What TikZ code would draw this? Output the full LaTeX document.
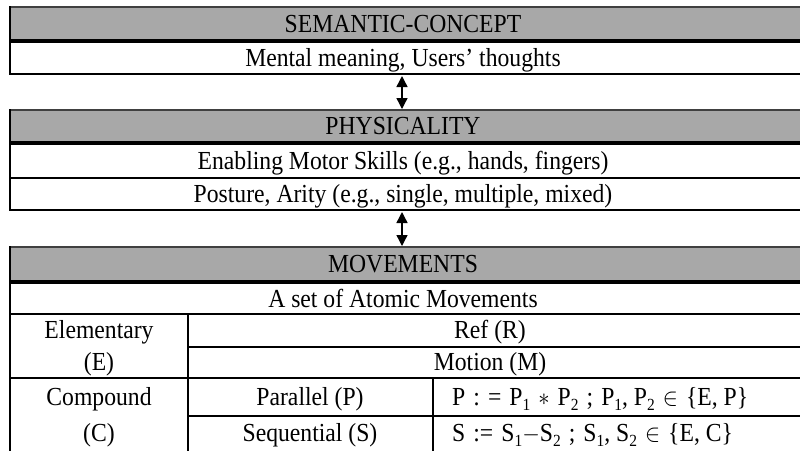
\documentclass[tikz,border=0pt]{standalone}
\usepackage{fontspec}
\setmainfont{Liberation Serif}
\usetikzlibrary{arrows.meta}
\definecolor{hdr}{HTML}{A8A8A8}
\newcommand{\sbs}[1]{\raisebox{-0.5ex}{\fontsize{17}{17}\selectfont #1}}
\newcommand{\sq}[1]{\scalebox{0.91}[1]{#1}}
\newcommand{\fsp}{\hspace{0.34em}}
\begin{document}
\begin{tikzpicture}[x=1pt,y=-1pt,
  txt/.style={font=\fontsize{26}{30}\selectfont, inner sep=0pt, anchor=base},
  ftxt/.style={txt, anchor=base west},
  toprule/.style={line width=2pt, draw=black!75},
  siderule/.style={line width=2.5pt},
  thinrule/.style={line width=2pt},
  thickrule/.style={line width=4pt},
  dbl/.style={line width=1.4pt, {Triangle[width=11pt,length=11pt]}-{Triangle[width=11pt,length=11pt]}}]
\useasboundingbox (0,0) rectangle (800,450);
\clip (0,0) rectangle (800,450);
\def\L{10}
\def\R{804}
% ---------- table 1
\fill[hdr] (\L,7) rectangle (\R,41);
\draw[toprule] (\L,7) -- (\R,7);
\draw[thickrule] (\L,41) -- (\R,41);
\draw[thinrule] (\L,74) -- (\R,74);
\draw[siderule] (\L,6) -- (\L,75);
\node[txt] (sem) at (403,32) {\sq{SEMANTIC-CONCEPT}};
\node[txt] (mental) at (403,66) {\sq{Mental meaning, Users’ thoughts}};
% ---------- table 2
\fill[hdr] (\L,110) rectangle (\R,143);
\draw[toprule] (\L,110) -- (\R,110);
\draw[thickrule] (\L,143) -- (\R,143);
\draw[thinrule] (\L,178) -- (\R,178);
\draw[thinrule] (\L,210) -- (\R,210);
\draw[siderule] (\L,109) -- (\L,211);
\node[txt] (phys) at (403,134) {\sq{PHYSICALITY}};
\node[txt] (motor) at (403,169) {\sq{Enabling Motor Skills (e.g., hands, fingers)}};
\node[txt] (posture) at (403,202) {\sq{Posture, Arity (e.g., single, multiple, mixed)}};
% ---------- table 3
\fill[hdr] (\L,247) rectangle (\R,282);
\draw[toprule] (\L,247) -- (\R,247);
\draw[thickrule] (\L,282) -- (\R,282);
\draw[thinrule] (\L,314) -- (\R,314);
\draw[thinrule] (188,347) -- (\R,347);
\draw[thinrule] (\L,378) -- (\R,378);
\draw[thinrule] (188,416) -- (\R,416);
\draw[siderule] (\L,246) -- (\L,452);
\draw[siderule] (188,314) -- (188,452);
\draw[siderule] (433,378) -- (433,452);
\node[txt] (mov) at (403,272) {\sq{MOVEMENTS}};
\node[txt] (atomic) at (403,307) {\sq{A set of Atomic Movements}};
\node[txt] (elem) at (99,338) {\sq{Elementary}};
\node[txt] (elemE) at (99,370) {\sq{(E)}};
\node[txt] (ref) at (490,338) {\sq{Ref (R)}};
\node[txt] (motion) at (490,370) {\sq{Motion (M)}};
\node[txt] (comp) at (99,405) {\sq{Compound}};
\node[txt] (compC) at (99,441) {\sq{(C)}};
\node[txt] (par) at (310,405) {\sq{Parallel (P)}};
\node[txt] (seq) at (310,441) {\sq{Sequential (S)}};
\node[ftxt] (pform) at (452,405) {\sq{P\fsp:\fsp=\fsp P\sbs{1}\fsp$\ast$\fsp P\sbs{2}\fsp;\fsp P\sbs{1}, P\sbs{2}\fsp$\in$\fsp\{E, P\}}};
\node[ftxt] (sform) at (452,441) {\sq{S\fsp:=\fsp S\sbs{1}$-$S\sbs{2}\fsp;\fsp S\sbs{1}, S\sbs{2}\fsp$\in$\fsp\{E, C\}}};
% ---------- arrows
\coordinate (a1s) at (402,76);
\coordinate (a1e) at (402,109);
\coordinate (a2s) at (402,212);
\coordinate (a2e) at (402,246);
\draw[dbl] (a1s) -- (a1e);
\draw[dbl] (a2s) -- (a2e);
\end{tikzpicture}
\end{document}
